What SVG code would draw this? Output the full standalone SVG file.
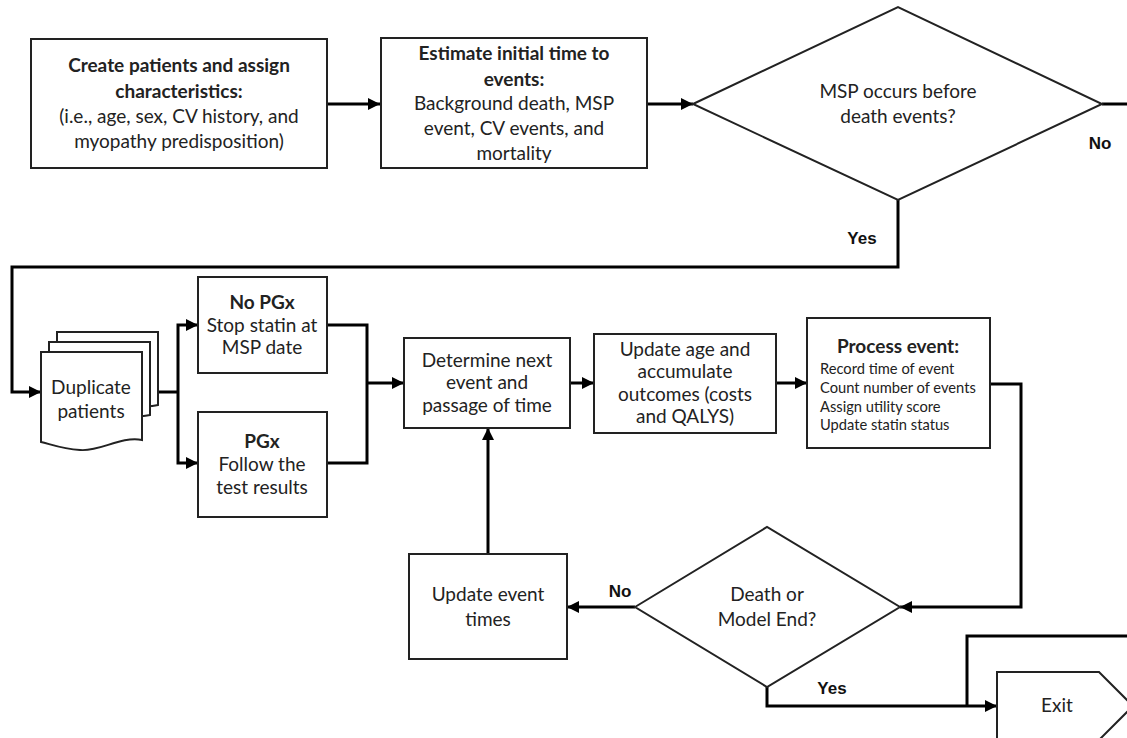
<svg xmlns="http://www.w3.org/2000/svg" width="1127" height="738" viewBox="0 0 1127 738">
<style>
.box{fill:#fff;stroke:#222;stroke-width:2}
.t{font-family:Lato,"Liberation Sans",sans-serif;font-size:19px;fill:#222;text-anchor:middle}
.b{font-weight:bold}
.s{font-family:Lato,"Liberation Sans",sans-serif;font-size:14.7px;fill:#222}
.lbl{font-family:"Liberation Sans",Arial,sans-serif;font-size:17px;font-weight:bold;fill:#111;text-anchor:middle}
.c{fill:none;stroke:#000;stroke-width:3}
</style>
<defs>
<marker id="ah" viewBox="0 0 10 10" refX="10" refY="5" markerWidth="4" markerHeight="4" orient="auto" markerUnits="strokeWidth">
<path d="M0,0 L10,5 L0,10 z" fill="#000"/>
</marker>
</defs>
<rect width="1127" height="738" fill="#fff"/>
<g id="connectors">
<path class="c" d="M327,104 H380" marker-end="url(#ah)"/>
<path class="c" d="M647,104 H693" marker-end="url(#ah)"/>
<path class="c" d="M1102,104 H1127"/>
<path class="c" d="M898,200 V267 H12 V392 H41" marker-end="url(#ah)"/>
<path class="c" d="M158,392 H178"/>
<path class="c" d="M178,392 V325 H198" marker-end="url(#ah)"/>
<path class="c" d="M178,392 V463 H198" marker-end="url(#ah)"/>
<path class="c" d="M327,325 H367 V463 H327"/>
<path class="c" d="M367,383 H404" marker-end="url(#ah)"/>
<path class="c" d="M570,383 H594" marker-end="url(#ah)"/>
<path class="c" d="M776,383 H807" marker-end="url(#ah)"/>
<path class="c" d="M990,384 H1021 V607 H900" marker-end="url(#ah)"/>
<path class="c" d="M635,607 H567" marker-end="url(#ah)"/>
<path class="c" d="M488,554 V428" marker-end="url(#ah)"/>
<path class="c" d="M767,687 V706 H997" marker-end="url(#ah)"/>
<path class="c" d="M967,706 V636 H1127"/>
</g>
<g id="create">
<rect class="box" x="31" y="39" width="296" height="129"/>
<text class="t b" x="179" y="72">Create patients and assign</text>
<text class="t b" x="179" y="98">characteristics:</text>
<text class="t" x="179" y="123">(i.e., age, sex, CV history, and</text>
<text class="t" x="179" y="148">myopathy predisposition)</text>
</g>
<g id="estimate">
<rect class="box" x="381" y="38" width="266" height="130"/>
<text class="t b" x="514" y="60">Estimate initial time to</text>
<text class="t b" x="514" y="86">events:</text>
<text class="t" x="514" y="110">Background death, MSP</text>
<text class="t" x="514" y="135">event, CV events, and</text>
<text class="t" x="514" y="160">mortality</text>
</g>
<g id="msp">
<polygon points="693,104 898,7 1102,104 898,200" fill="#fff" stroke="#222" stroke-width="2"/>
<text class="t" x="898" y="98">MSP occurs before</text>
<text class="t" x="898" y="123">death events?</text>
</g>
<text class="lbl" x="1100" y="149">No</text>
<text class="lbl" x="862" y="244">Yes</text>
<g id="duplicate">
<path class="box" d="M57,332 H158 V405 C140,410 120,400 100,410 L57,410 Z"/>
<path class="box" d="M49,342 H150 V415 C130,420 110,410 90,420 L49,420 Z"/>
<path class="box" d="M41,352 H142 V440 C120,436 100,452 80,450 C62,449 50,444 41,442 Z"/>
<text class="t" x="91" y="394">Duplicate</text>
<text class="t" x="91" y="418">patients</text>
</g>
<g id="nopgx">
<rect class="box" x="198" y="277" width="129" height="96"/>
<text class="t b" x="262" y="309">No PGx</text>
<text class="t" x="262" y="332">Stop statin at</text>
<text class="t" x="262" y="354">MSP date</text>
</g>
<g id="pgx">
<rect class="box" x="198" y="412" width="129" height="105"/>
<text class="t b" x="262" y="448">PGx</text>
<text class="t" x="262" y="471">Follow the</text>
<text class="t" x="262" y="494">test results</text>
</g>
<g id="determine">
<rect class="box" x="404" y="338" width="166" height="90"/>
<text class="t" x="487" y="367">Determine next</text>
<text class="t" x="487" y="389">event and</text>
<text class="t" x="487" y="412">passage of time</text>
</g>
<g id="update">
<rect class="box" x="594" y="334" width="182" height="99"/>
<text class="t" x="685" y="356">Update age and</text>
<text class="t" x="685" y="378">accumulate</text>
<text class="t" x="685" y="401">outcomes (costs</text>
<text class="t" x="685" y="423">and QALYS)</text>
</g>
<g id="process">
<rect class="box" x="807" y="318" width="183" height="130"/>
<text class="t b" x="898" y="353">Process event:</text>
<text class="s" x="820" y="374">Record time of event</text>
<text class="s" x="820" y="393">Count number of events</text>
<text class="s" x="820" y="412">Assign utility score</text>
<text class="s" x="820" y="430">Update statin status</text>
</g>
<g id="updateevent">
<rect class="box" x="409" y="554" width="158" height="105"/>
<text class="t" x="488" y="601">Update event</text>
<text class="t" x="488" y="626">times</text>
</g>
<g id="death">
<polygon points="635,607 767,527 900,607 767,687" fill="#fff" stroke="#222" stroke-width="2"/>
<text class="t" x="767" y="601">Death or</text>
<text class="t" x="767" y="626">Model End?</text>
</g>
<text class="lbl" x="620" y="597">No</text>
<text class="lbl" x="832" y="694">Yes</text>
<g id="exit">
<polygon points="997,672 1099,672 1133,706 1099,740 997,740" fill="#fff" stroke="#222" stroke-width="2"/>
<text class="t" x="1057" y="712">Exit</text>
</g>
</svg>
